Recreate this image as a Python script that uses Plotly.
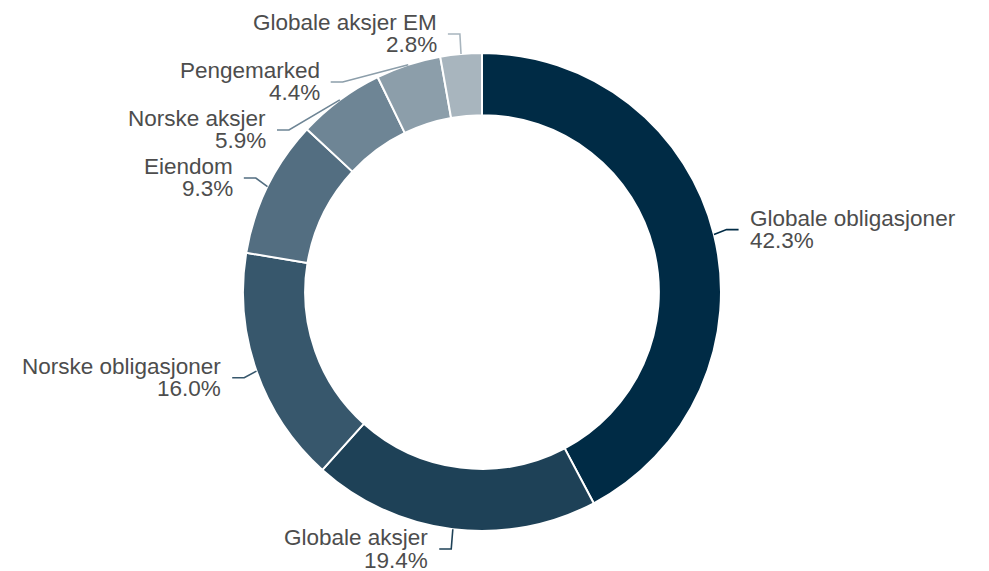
import math
import plotly.graph_objects as go

labels = ["Globale obligasjoner", "Globale aksjer", "Norske obligasjoner", "Eiendom",
          "Norske aksjer", "Pengemarked", "Globale aksjer EM"]
values = [42.3, 19.4, 16.0, 9.3, 5.9, 4.4, 2.8]
colors = ["#002B45", "#1E4157", "#37576C", "#536E81", "#6E8595", "#8C9EAA", "#A8B5BE"]

W, H = 989, 571
CX, CY, R = 482, 292, 239
HOLE = 0.74
ELBOW_RY = 259
ELBOW_RX = 252
HSEG = 12
GAP = 9
SPACING = 48
TEXT_COLOR = "#4D4D4D"
FONT = "Liberation Sans, Arial, sans-serif"
FS = 22.5

fig = go.Figure(go.Pie(
    labels=labels, values=values, sort=False, direction="clockwise", rotation=0,
    hole=HOLE, textinfo="none", hoverinfo="label+percent",
    marker=dict(colors=colors, line=dict(color="white", width=2)),
    domain=dict(x=[(CX - R) / W, (CX + R) / W], y=[(H - CY - R) / H, (H - CY + R) / H]),
    showlegend=False,
))

# compute label geometry from data
total = sum(values)
cum = 0
items = []
for lab, v, c in zip(labels, values, colors):
    mid = (cum + v / 2) / total * 2 * math.pi
    cum += v
    s, co = math.sin(mid), math.cos(mid)
    ax, ay = CX + R * s, CY - R * co
    ey = CY - ELBOW_RY * co
    side = 1 if s >= 0 else -1
    items.append(dict(lab=lab, v=v, c=c, s=s, ax=ax, ay=ay, ey=ey, side=side))

# avoid overlaps: per side, push downward from the top
for side in (1, -1):
    grp = sorted([it for it in items if it["side"] == side], key=lambda d: d["ey"])
    prev = None
    for it in grp:
        if prev is not None:
            it["ey"] = max(it["ey"], prev + SPACING)
        prev = it["ey"]

def px(x):
    return x / W

def py(y):
    return 1 - y / H

shapes = []
annotations = []
for it in items:
    dy = it["ey"] - CY
    dx = math.sqrt(max(ELBOW_RX ** 2 - dy ** 2, 0))
    dx = max(dx, ELBOW_RX * abs(it["s"]))
    ex = CX + it["side"] * dx
    hx = ex + it["side"] * HSEG
    path = f"M {px(it['ax'])},{py(it['ay'])} L {px(ex)},{py(it['ey'])} L {px(hx)},{py(it['ey'])}"
    shapes.append(dict(type="path", xref="paper", yref="paper", path=path,
                       line=dict(color=it["c"], width=1.6)))
    tx = hx + it["side"] * GAP
    anchor = "left" if it["side"] > 0 else "right"
    for txt, off in ((it["lab"], -11.5), (f"{it['v']:.1f}%", 11)):
        annotations.append(dict(x=px(tx), y=py(it["ey"] + off), xref="paper", yref="paper",
                                text=txt, showarrow=False, xanchor=anchor, yanchor="middle",
                                align=anchor, font=dict(family=FONT, size=FS, color=TEXT_COLOR)))

fig.update_layout(
    width=W, height=H, margin=dict(l=0, r=0, t=0, b=0),
    paper_bgcolor="white", plot_bgcolor="white",
    shapes=shapes, annotations=annotations,
)

fig.write_html("out.html", config={"displayModeBar": False},
               post_script="document.body.style.margin='0';document.body.style.overflow='hidden';")
